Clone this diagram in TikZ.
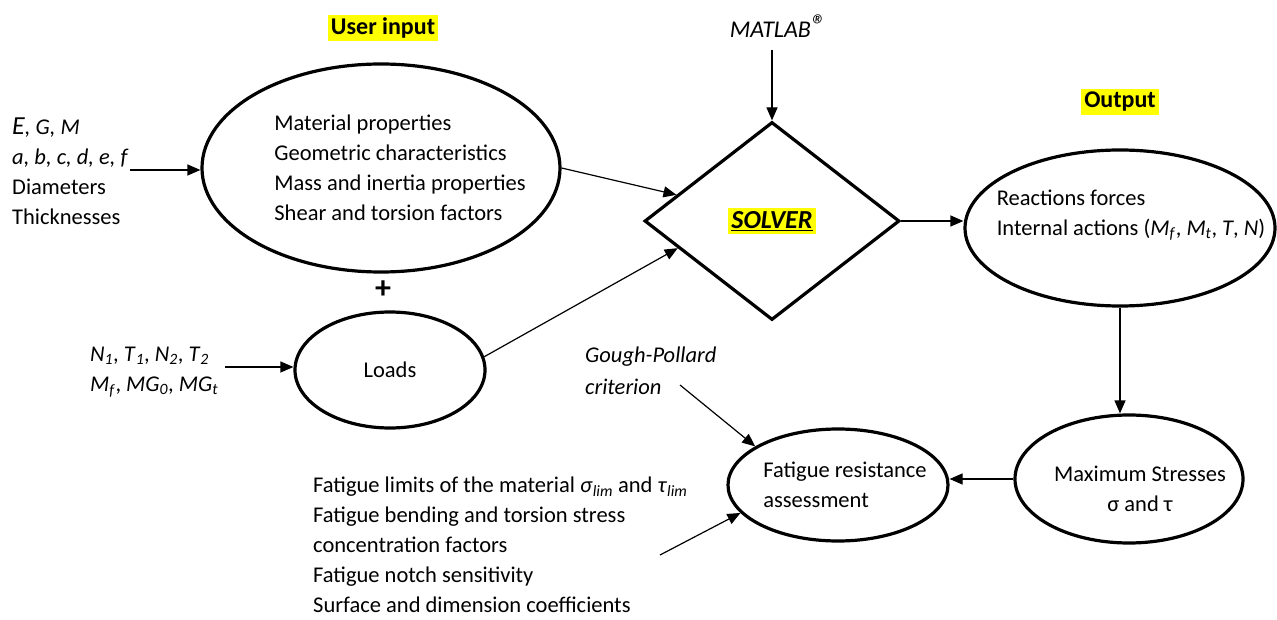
\documentclass[tikz,border=0pt]{standalone}
\usepackage{fontspec}
\setmainfont{Carlito}
\usepackage{tikz}
\usetikzlibrary{positioning,arrows.meta,shapes.geometric,calc}
\definecolor{hlyellow}{HTML}{FFFF00}
\newcommand{\subit}[2]{\textit{#1}\textsubscript{\textit{#2}}}

\begin{document}
\begin{tikzpicture}[
  x=1pt, y=-1pt,
  font=\fontsize{22.5}{30}\selectfont,
  bubble/.style={draw, ellipse, line width=3.2pt, inner sep=0pt},
  bubtext/.style={align=left, inner sep=0pt},
  solverbox/.style={draw, diamond, line width=3.2pt, inner sep=0pt,
              minimum width=255pt, minimum height=198pt},
  arr/.style={-{Triangle[length=13pt,width=11pt]}, line width=1.2pt},
  hl/.style={fill=hlyellow, font=\fontsize{24}{28}\selectfont\bfseries, inner sep=3pt},
  txt/.style={align=left, inner sep=0pt, anchor=west},
]
  \useasboundingbox (0,0) rectangle (1277,620);

  % headings
  \node[hl] (userin) at (383,28) {User input};
  \node[hl] (outlbl) at (1120,102) {Output};
  \node[font=\fontsize{24}{26}\selectfont\itshape] (matlab) at (778,26)
    {MATLAB\raisebox{0.1em}{\fontsize{30}{30}\selectfont\textregistered}};

  % main shapes
  \node[bubble, minimum width=358pt, minimum height=208pt,
    label={[bubtext, xshift=19pt]center:{Material properties\\Geometric characteristics\\Mass and inertia properties\\Shear and torsion factors}}]
    (props) at (381,168) {};
  \node[font=\fontsize{32}{32}\selectfont\bfseries] (plus) at (383,290) {+};
  \node[bubble, minimum width=190pt, minimum height=116pt,
    label={[bubtext]center:Loads}] (loads) at (390,370) {};
  \node[solverbox] (solver) at (772,221)
    {\colorbox{hlyellow}{\fontsize{26}{28}\selectfont\bfseries\itshape\underline{SOLVER}}};
  \node[bubble, minimum width=310pt, minimum height=156pt,
    label={[bubtext, xshift=11pt, yshift=13pt]center:{Reactions forces\\Internal actions (\subit{M}{f}, \subit{M}{t}, \textit{T}, \textit{N})}}]
    (reactions) at (1120,228) {};
  \node[bubble, minimum width=228pt, minimum height=128pt,
    label={[bubtext, align=center, xshift=11pt, yshift=-10pt]center:{Maximum Stresses\\σ and τ}}]
    (maxstress) at (1129,479) {};
  \node[bubble, minimum width=220pt, minimum height=112pt,
    label={[bubtext, xshift=7pt]center:{Fatigue resistance\\assessment}}]
    (fatigue) at (838,485) {};

  % side texts
  \node[txt] (geomin) at (12,171)
    {\textit{{\fontsize{26}{30}\selectfont E}, G, M}\\\textit{a, b, c, d, e, f}\\Diameters\\Thicknesses};
  \node[txt] (loadin) at (90,372)
    {\subit{N}{1}, \subit{T}{1}, \subit{N}{2}, \subit{T}{2}\\\subit{M}{f}, \subit{MG}{0}, \subit{MG}{t}};
  \node[txt, font=\fontsize{22.5}{32}\selectfont\itshape] (gough) at (585,371) {Gough-Pollard\\criterion};
  \node[txt] (limits) at (313,545)
    {Fatigue limits of the material \subit{σ}{lim} and \subit{τ}{lim}\\Fatigue bending and torsion stress\\concentration factors\\Fatigue notch sensitivity\\Surface and dimension coefficients};

  % free ends
  \coordinate (geoend) at (130,170);
  \coordinate (loadend) at (225,367);
  \coordinate (matend) at (772,50);
  \coordinate (goughend) at (680,385);
  \coordinate (limend) at (660,555);

  % connectors
  \draw[arr] (geoend) -- (props.west |- geoend);
  \draw[arr] (loadend) -- (loads.west |- loadend);
  \draw[arr] (matend) -- (solver.north);
  \draw[arr] (props.east) -- ($(solver.west)!0.26!(solver.north)$);
  \draw[arr] (loads.8) -- ($(solver.west)!0.27!(solver.south)$);
  \draw[arr] (solver.east) -- (reactions.west |- solver.east);
  \draw[arr] (reactions.south) -- (reactions.south |- maxstress.north);
  \draw[arr] (maxstress.west) -- (fatigue.east |- maxstress.west);
  \draw[arr] (goughend) -- (fatigue.155);
  \draw[arr] (limend) -- (fatigue.196);
\end{tikzpicture}
\end{document}
